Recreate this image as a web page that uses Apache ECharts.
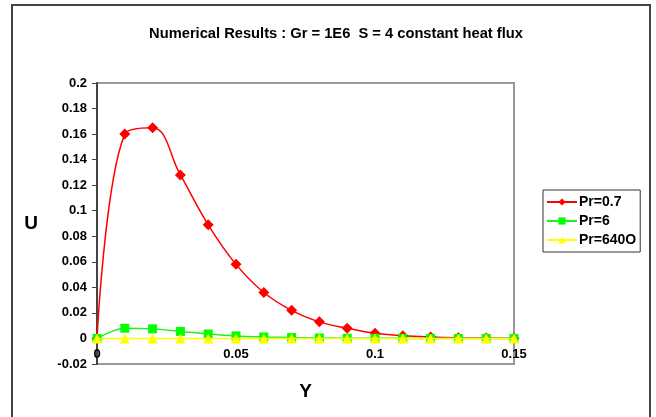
<!DOCTYPE html>
<html><head><meta charset="utf-8">
<script src="https://cdn.jsdelivr.net/npm/echarts@6/dist/echarts.min.js"></script>
<style>html,body{margin:0;padding:0;background:#fff}#c{width:656px;height:417px}</style>
</head><body><div id="c"></div>
<script>
const yPositions = [0, 0.01, 0.02, 0.03, 0.04, 0.05, 0.06, 0.07, 0.08, 0.09, 0.10, 0.11, 0.12, 0.13, 0.14, 0.15];
const uPr07 = [0, 0.160, 0.165, 0.128, 0.089, 0.058, 0.036, 0.022, 0.013, 0.008, 0.004, 0.0022, 0.0012, 0.0006, 0.0003, 0.0001];
const uPr6 = [0, 0.008, 0.0075, 0.0055, 0.0035, 0.002, 0.0012, 0.0007, 0.0004, 0.0002, 0.0001, 0.0001, 0, 0, 0, 0];
const uPr6400 = [0, 0, 0, 0, 0, 0, 0, 0, 0, 0, 0, 0, 0, 0, 0, 0];
const seriesNames = ['Pr=0.7', 'Pr=6', 'Pr=640O'];
const titleText = 'Numerical Results : Gr = 1E6  S = 4 constant heat flux';

const pair = arr => yPositions.map((x, i) => [x, arr[i]]);
const font = 'Liberation Sans, Arial, sans-serif';
const chart = echarts.init(document.getElementById('c'), null, {renderer: 'canvas'});
chart.setOption({
  animation: false,
  backgroundColor: '#fff',
  title: {
    text: titleText, left: 331, top: 21, textAlign: 'center',
    textStyle: {fontFamily: font, fontWeight: 'bold', fontSize: 14.7, color: '#000'}
  },
  grid: {left: 97, top: 83, width: 417, height: 281, outerBoundsMode: 'none', containLabel: false,
    show: true, borderColor: '#999', borderWidth: 2, backgroundColor: 'transparent'},
  legend: {
    orient: 'vertical', left: 543, top: 190,
    padding: [5, 4, 5, 3], itemGap: 5, itemWidth: 30, itemHeight: 9,
    borderColor: '#333', borderWidth: 1,
    textStyle: {fontFamily: font, fontWeight: 'bold', fontSize: 14, color: '#000', padding: [0, 0, 0, -3]},
    data: seriesNames
  },
  xAxis: {
    type: 'value', min: 0, max: 0.15, interval: 0.05,
    name: 'Y', nameLocation: 'middle', nameGap: 18,
    nameTextStyle: {fontFamily: font, fontWeight: 'bold', fontSize: 19, color: '#000'},
    axisLine: {onZero: true, lineStyle: {color: '#888', width: 1}},
    axisTick: {show: false},
    splitLine: {show: false},
    axisLabel: {fontFamily: font, fontWeight: 'bold', fontSize: 13, color: '#000', margin: -16,
      formatter: v => String(+v.toFixed(2))}
  },
  yAxis: {
    type: 'value', min: -0.02, max: 0.2, interval: 0.02,
    name: 'U', nameLocation: 'middle', nameGap: 59, nameRotate: 0,
    nameTextStyle: {fontFamily: font, fontWeight: 'bold', fontSize: 19, color: '#000'},
    axisLine: {show: true, onZero: false, lineStyle: {color: '#444', width: 2}},
    axisTick: {show: true, inside: false, length: 5, lineStyle: {color: '#444'}},
    splitLine: {show: false},
    axisLabel: {fontFamily: font, fontWeight: 'bold', fontSize: 13, color: '#000', margin: 10,
      formatter: v => String(+v.toFixed(2))}
  },
  graphic: [{
    type: 'polyline', silent: true,
    shape: {points: [[12, 417], [12, 5], [650, 5], [650, 417]]},
    style: {stroke: '#444', lineWidth: 2, fill: null}
  }],
  series: [
    {name: seriesNames[0], type: 'line', data: pair(uPr07), smooth: 0.4, z: 3,
     symbol: 'diamond', symbolSize: 11, itemStyle: {color: '#ff0000'}, lineStyle: {color: '#ff0000', width: 1.5}},
    {name: seriesNames[1], type: 'line', data: pair(uPr6), smooth: 0.35, z: 4,
     symbol: 'rect', symbolSize: 9, itemStyle: {color: '#00ff00'}, lineStyle: {color: '#22ee22', width: 1.5}},
    {name: seriesNames[2], type: 'line', data: pair(uPr6400), smooth: 0.35, z: 5,
     symbol: 'triangle', symbolSize: 10, itemStyle: {color: '#ffff00'}, lineStyle: {color: '#ffff00', width: 1.5}}
  ]
});
</script></body></html>
